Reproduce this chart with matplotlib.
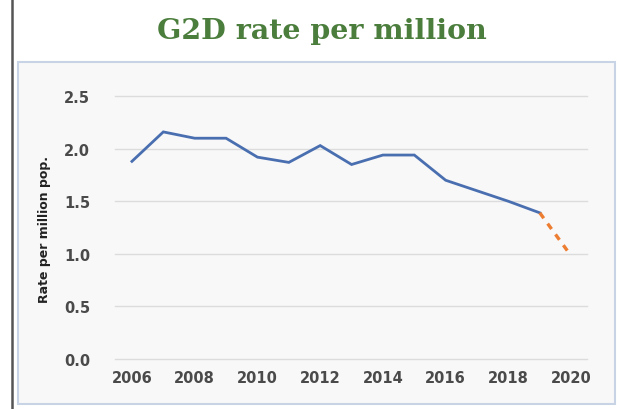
import matplotlib.pyplot as plt
from matplotlib.patches import Rectangle
from matplotlib.lines import Line2D

# data
years = [2006, 2007, 2008, 2009, 2010, 2011, 2012, 2013, 2014, 2015, 2016, 2017, 2018, 2019]
rate = [1.88, 2.16, 2.10, 2.10, 1.92, 1.87, 2.03, 1.85, 1.94, 1.94, 1.70, 1.60, 1.50, 1.39]
proj_years = [2019, 2020]
proj_rate = [1.39, 0.98]

xticks = [2006, 2008, 2010, 2012, 2014, 2016, 2018, 2020]
yticks = [0.0, 0.5, 1.0, 1.5, 2.0, 2.5]

blue = "#4a6fb0"
orange = "#ed7d31"
green = "#4b7d3c"
grid = "#dcdcdc"
tick_col = "#4a4a4a"

fig = plt.figure(figsize=(6.25, 4.1), dpi=100)
fig.patch.set_facecolor("white")

# chart frame like the excel chart area
fig.patches.append(Rectangle((0.029, 0.012), 0.955, 0.834, transform=fig.transFigure,
                             facecolor="#f8f8f8", edgecolor="#c9d3e6", linewidth=1.5, zorder=-5))
fig.lines.append(Line2D([0.019, 0.019], [0, 1], transform=fig.transFigure,
                        color="#555555", linewidth=1.8))

ax = fig.add_axes([0.184, 0.122, 0.755, 0.641])
ax.set_zorder(5)
ax.set_facecolor("none")

ax.plot(years, rate, color=blue, linewidth=2.0, solid_joinstyle="miter", zorder=3)
ax.plot(proj_years, proj_rate, color=orange, linewidth=2.4, dashes=(2.0, 2.0), zorder=3)

ax.set_xlim(2005.46, 2020.5)
ax.set_ylim(0, 2.5)
ax.set_xticks(xticks)
ax.set_yticks(yticks)
ax.set_yticklabels([f"{v:.1f}" for v in yticks])
ax.yaxis.grid(True, color=grid, linewidth=1.0)
for gl in ax.get_ygridlines():
    gl.set_clip_on(False)
ax.set_axisbelow(True)
for s in ax.spines.values():
    s.set_visible(False)
ax.tick_params(length=0, colors=tick_col, labelsize=10.5)
ax.tick_params(axis="x", pad=8)
ax.tick_params(axis="y", pad=18)
for lab in ax.get_xticklabels() + ax.get_yticklabels():
    lab.set_fontweight("bold")
    lab.set_family("DejaVu Sans")

fig.text(0.072, 0.44, "Rate per million pop.", rotation=90, ha="center", va="center",
         fontsize=9, fontweight="bold", family="Liberation Sans Narrow", color="#222222")

fig.text(0.515, 0.922, "G2D rate per million", ha="center", va="center",
         fontsize=20.5, fontweight="bold", family="DejaVu Serif", color=green)

fig.savefig("out.png", dpi=100)
